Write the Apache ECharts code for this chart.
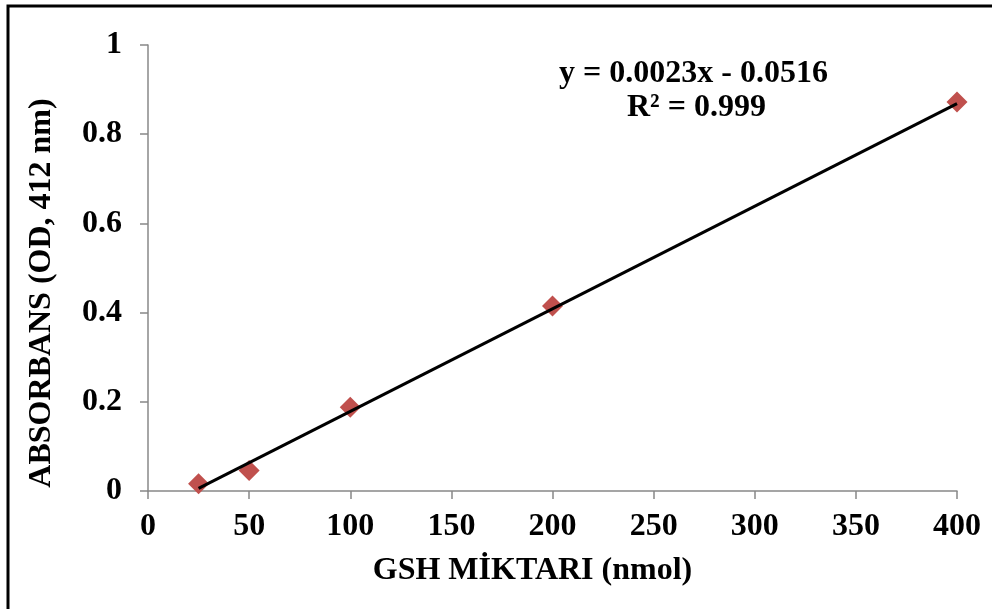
<!DOCTYPE html>
<html>
<head>
<meta charset="utf-8">
<script src="https://cdn.jsdelivr.net/npm/echarts@6/dist/echarts.min.js"></script>
<style>
  html, body { margin: 0; padding: 0; background: #fff; }
  #main { width: 992px; height: 609px; }
</style>
</head>
<body>
<div id="main"></div>
<script>
// veriler
var gshMiktari = [25, 50, 100, 200, 400];
var absorbans = [0.016, 0.046, 0.188, 0.415, 0.872];
// trend çizgisi katsayıları (grafikteki denklem)
var egim = 0.0023;
var kesisim = -0.0516;
var trendAraligi = [25, 400];
var denklemMetni = ['y = 0.0023x - 0.0516', 'R² = 0.999'];

var noktalar = gshMiktari.map(function (x, i) { return [x, absorbans[i]]; });
var trend = trendAraligi.map(function (x) { return [x, egim * x + kesisim]; });

var yazi = 'Liberation Serif, Times New Roman, serif';
var myChart = echarts.init(document.getElementById('main'));

var option = {
  backgroundColor: '#fff',
  animation: false,
  grid: { left: 148, right: 35, top: 45, bottom: 118 },
  xAxis: {
    type: 'value',
    min: 0, max: 400, interval: 50,
    name: 'GSH MİKTARI (nmol)',
    nameLocation: 'middle',
    nameGap: 64,
    nameTextStyle: { fontFamily: yazi, fontWeight: 'bold', fontSize: 32, color: '#000', padding: [0, 40, 0, 0] },
    axisLine: { onZero: false, lineStyle: { color: '#888', width: 1.5 } },
    axisTick: { show: true, length: 8, lineStyle: { color: '#888', width: 1.5 } },
    axisLabel: { fontFamily: yazi, fontWeight: 'bold', fontSize: 32, color: '#000', margin: 20 },
    splitLine: { show: false }
  },
  yAxis: {
    type: 'value',
    min: 0, max: 1, interval: 0.2,
    name: 'ABSORBANS (OD, 412 nm)',
    nameLocation: 'middle',
    nameGap: 90,
    nameTextStyle: { fontFamily: yazi, fontWeight: 'bold', fontSize: 32, color: '#000', padding: [0, 50, 0, 0] },
    axisLine: { show: true, lineStyle: { color: '#888', width: 1.5 } },
    axisTick: { show: true, length: 8, lineStyle: { color: '#888', width: 1.5 } },
    axisLabel: { fontFamily: yazi, fontWeight: 'bold', fontSize: 32, color: '#000', margin: 26 },
    splitLine: { show: false }
  },
  series: [
    {
      name: 'trend',
      type: 'line',
      data: trend,
      symbol: 'none',
      lineStyle: { color: '#000', width: 3 },
      z: 3
    },
    {
      name: 'GSH',
      type: 'scatter',
      data: noktalar,
      symbol: 'diamond',
      symbolSize: 21,
      itemStyle: { color: '#C0504D', opacity: 1 },
      z: 2
    }
  ],
  graphic: [
    {
      type: 'rect',
      shape: { x: 8, y: 6, width: 1100, height: 800 },
      style: { fill: 'none', stroke: '#000', lineWidth: 3 },
      silent: true
    },
    {
      type: 'text',
      left: 559, top: 58,
      style: { text: denklemMetni[0], font: 'bold 32px ' + yazi, fill: '#000' }
    },
    {
      type: 'text',
      left: 627, top: 92,
      style: { text: denklemMetni[1], font: 'bold 32px ' + yazi, fill: '#000' }
    }
  ]
};
myChart.setOption(option);
</script>
</body>
</html>
